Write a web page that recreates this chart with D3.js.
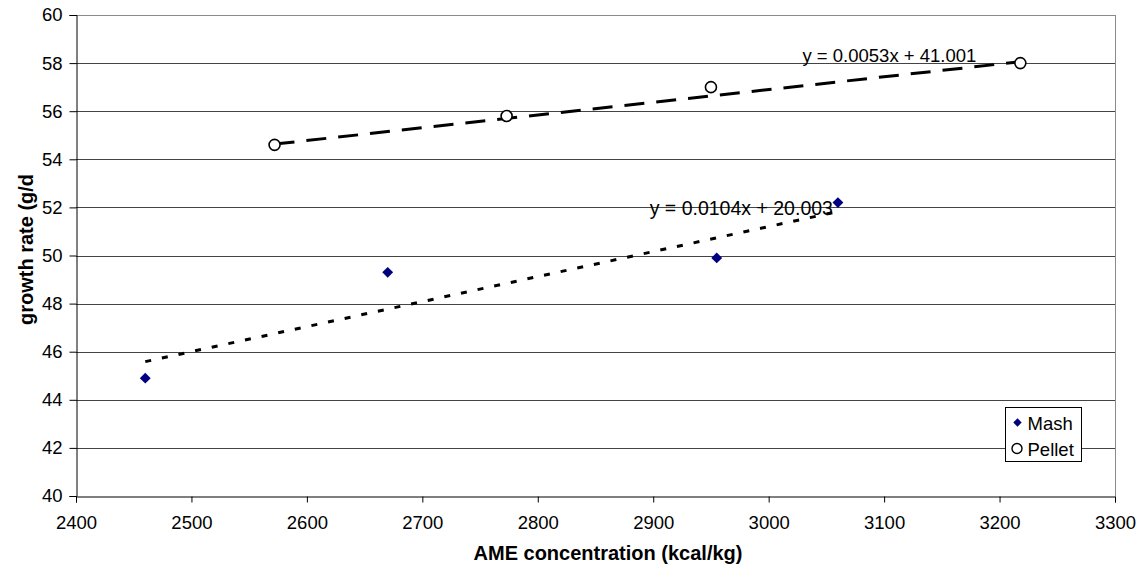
<!DOCTYPE html>
<html>
<head>
<meta charset="utf-8">
<script src="https://cdn.jsdelivr.net/npm/d3@7"></script>
<style>
	body { margin: 0; background: #fff; }
	text { font-family: "Liberation Sans", Arial, sans-serif; }
</style>
</head>
<body>
<svg id="chart"></svg>
<script>
let width = 1147;
let height = 566;

// data
const mashX = [2460, 2670, 2955, 3060];
const mashY = [44.9, 49.3, 49.9, 52.2];
const pelletX = [2572, 2773, 2950, 3218];
const pelletY = [54.6, 55.8, 57.0, 58.0];

// trendline coefficients (slope, intercept) as printed on the chart
const mashTrend = [0.0104, 20.003];
const pelletTrend = [0.0053, 41.001];

const xTicks = [2400, 2500, 2600, 2700, 2800, 2900, 3000, 3100, 3200, 3300];
const yTicks = [40, 42, 44, 46, 48, 50, 52, 54, 56, 58, 60];

const seriesNames = ["Mash", "Pellet"];

const x = d3.scaleLinear().domain([2400, 3300]).range([76, 1115]);
const y = d3.scaleLinear().domain([40, 60]).range([496, 15]);

function draw() {
	const svg = d3.select("#chart");
	svg.selectAll("*").remove();
	svg.attr("width", width).attr("height", height);

	const g = svg.append("g");

	// horizontal gridlines
	g.append("g")
		.selectAll("line")
		.data(yTicks.filter((d) => d > 40))
		.enter()
		.append("line")
		.attr("x1", x(2400))
		.attr("x2", x(3300))
		.attr("y1", (d) => Math.round(y(d)) + 0.5)
		.attr("y2", (d) => Math.round(y(d)) + 0.5)
		.style("stroke", (d) => (d === 60 ? "#8a8a8a" : "#444"))
		.style("stroke-width", 1);

	// right border of plot area
	g.append("line")
		.attr("x1", Math.round(x(3300)) + 0.5)
		.attr("x2", Math.round(x(3300)) + 0.5)
		.attr("y1", y(60))
		.attr("y2", y(40))
		.style("stroke", "#8a8a8a");

	// axes
	const xAxis = d3.axisBottom(x).tickValues(xTicks).tickSize(6).tickPadding(9).tickFormat(d3.format("d"));
	const yAxis = d3.axisLeft(y).tickValues(yTicks).tickSize(7).tickPadding(7).tickFormat(d3.format("d"));

	const gx = g.append("g")
		.attr("transform", "translate(0," + (Math.round(y(40)) + 0.5) + ")")
		.call(xAxis);
	const gy = g.append("g")
		.attr("transform", "translate(" + (Math.round(x(2400)) + 0.5) + ",0)")
		.call(yAxis);

	[gx, gy].forEach((ax) => {
		ax.select(".domain").style("stroke", "#000");
		ax.selectAll(".tick line").style("stroke", "#000");
		ax.selectAll(".tick text")
			.style("font-family", "'Liberation Sans', Arial, sans-serif")
			.style("font-size", "18.5px")
			.style("fill", "#000");
	});
	gx.selectAll(".tick text").attr("dy", "0.95em");

	// trendlines
	const trendData = [
		{ xs: mashX, c: mashTrend, dash: "6,11", w: 3 },
		{ xs: pelletX, c: pelletTrend, dash: "20,12", w: 3 },
	];
	g.append("g")
		.selectAll("line")
		.data(trendData)
		.enter()
		.append("line")
		.attr("x1", (d) => x(d3.min(d.xs)))
		.attr("y1", (d) => y(d.c[0] * d3.min(d.xs) + d.c[1]))
		.attr("x2", (d) => x(d3.max(d.xs)))
		.attr("y2", (d) => y(d.c[0] * d3.max(d.xs) + d.c[1]))
		.style("stroke", "#000")
		.style("stroke-width", (d) => d.w)
		.style("stroke-dasharray", (d) => d.dash);

	// mash points
	const diamond = d3.symbol().type(d3.symbolDiamond2).size(75);
	g.append("g")
		.selectAll("path")
		.data(mashX.map((d, i) => [d, mashY[i]]))
		.enter()
		.append("path")
		.attr("d", diamond)
		.attr("transform", (d) => "translate(" + x(d[0]) + "," + y(d[1]) + ")")
		.style("fill", "#000080");

	// pellet points
	g.append("g")
		.selectAll("circle")
		.data(pelletX.map((d, i) => [d, pelletY[i]]))
		.enter()
		.append("circle")
		.attr("cx", (d) => x(d[0]))
		.attr("cy", (d) => y(d[1]))
		.attr("r", 5.5)
		.style("fill", "#fff")
		.style("stroke", "#000")
		.style("stroke-width", 1.6);

	// equation labels, placed relative to the trendline end
	const eq = (c) => "y = " + c[0] + "x + " + c[1].toFixed(3);
	const mashEnd = d3.max(mashX);
	const pelletEnd = d3.max(pelletX);
	g.append("text")
		.attr("x", x(mashEnd) - 5)
		.attr("y", y(mashTrend[0] * mashEnd + mashTrend[1]) + 3)
		.attr("text-anchor", "end")
		.style("font-size", "19.5px")
		.text(eq(mashTrend));
	g.append("text")
		.attr("x", x(pelletEnd) - 44)
		.attr("y", y(pelletTrend[0] * pelletEnd + pelletTrend[1]) + 0.5)
		.attr("text-anchor", "end")
		.style("font-size", "18.5px")
		.text(eq(pelletTrend));

	// axis titles
	g.append("text")
		.attr("x", 608)
		.attr("y", 560)
		.attr("text-anchor", "middle")
		.style("font-size", "20px")
		.style("font-weight", "bold")
		.text("AME concentration (kcal/kg)");
	g.append("text")
		.attr("transform", "translate(33," + (y(50) - 6) + ") rotate(-90)")
		.attr("text-anchor", "middle")
		.style("font-size", "20px")
		.style("font-weight", "bold")
		.text("growth rate (g/d");

	// legend
	const lg = g.append("g").attr("transform", "translate(1005.5,407.5)");
	lg.append("rect")
		.attr("width", 76)
		.attr("height", 54)
		.style("fill", "#fff")
		.style("stroke", "#000");
	const items = lg.selectAll("g.item")
		.data(seriesNames)
		.enter()
		.append("g")
		.attr("transform", (d, i) => "translate(0," + (15 + i * 26) + ")");
	items.filter((d, i) => i === 0)
		.append("path")
		.attr("d", d3.symbol().type(d3.symbolDiamond2).size(45))
		.attr("transform", "translate(12,0)")
		.style("fill", "#000080");
	items.filter((d, i) => i === 1)
		.append("circle")
		.attr("cx", 11.5)
		.attr("r", 5)
		.style("fill", "#fff")
		.style("stroke", "#000")
		.style("stroke-width", 1.4);
	items.append("text")
		.attr("x", 22)
		.attr("y", 7)
		.style("font-size", "18.5px")
		.text((d) => d);
}

draw();
</script>
</body>
</html>
